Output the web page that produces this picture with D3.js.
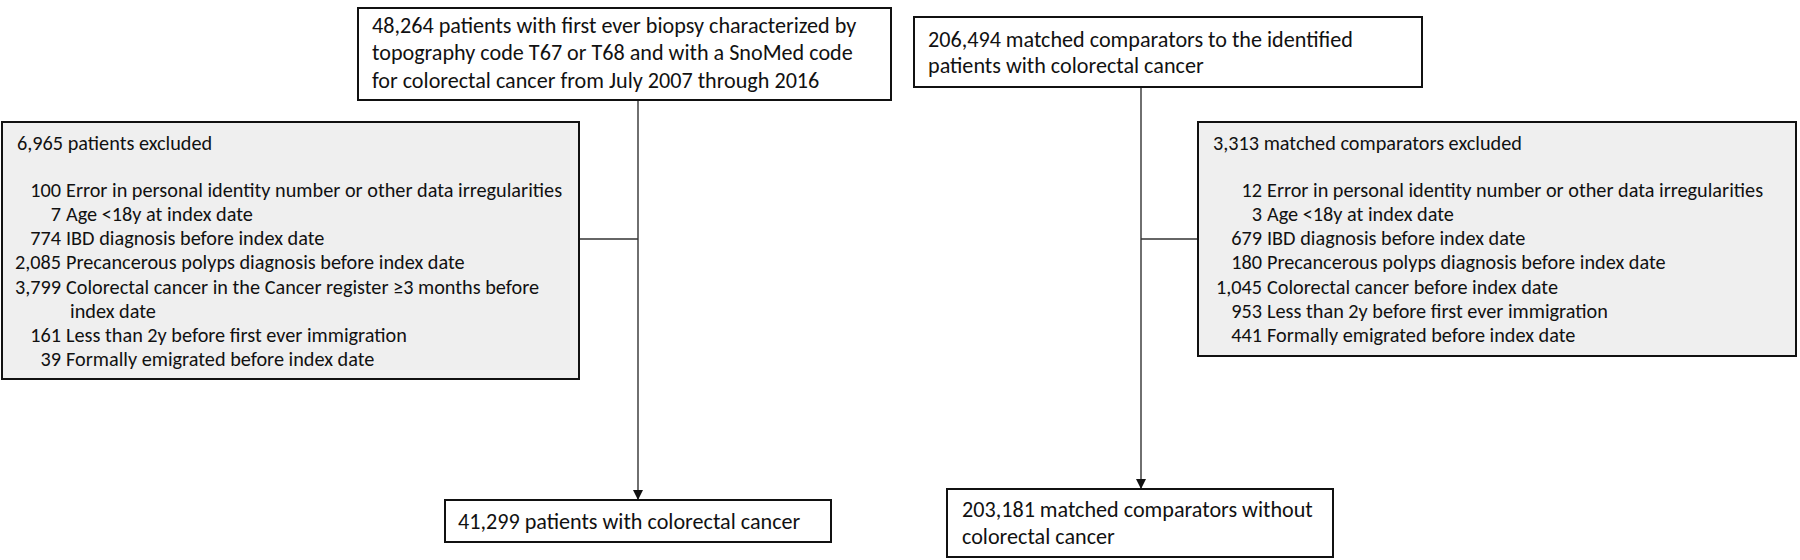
<!DOCTYPE html>
<html><head><meta charset="utf-8">
<script src="https://cdn.jsdelivr.net/npm/d3@7"></script>
<style>
html,body{margin:0;padding:0;background:#fff;}
svg{display:block;}
text{font-family:Carlito,Lato,"Liberation Sans",sans-serif;fill:#111;}
</style></head>
<body>
<svg id="chart" width="1800" height="560"></svg>
<script>
// ---------- data ----------
const cohortTop = ["48,264 patients with first ever biopsy characterized by",
  "topography code T67 or T68 and with a SnoMed code",
  "for colorectal cancer from July 2007 through 2016"];
const comparatorTop = ["206,494 matched comparators to the identified",
  "patients with colorectal cancer"];
const cohortExclHeader = "6,965 patients excluded";
const cohortExclCounts = ["100", "7", "774", "2,085", "3,799", "161", "39"];
const cohortExclReasons = [
  ["Error in personal identity number or other data irregularities"],
  ["Age <18y at index date"],
  ["IBD diagnosis before index date"],
  ["Precancerous polyps diagnosis before index date"],
  ["Colorectal cancer in the Cancer register \u22653 months before", "index date"],
  ["Less than 2y before first ever immigration"],
  ["Formally emigrated before index date"]];
const compExclHeader = "3,313 matched comparators excluded";
const compExclCounts = ["12", "3", "679", "180", "1,045", "953", "441"];
const compExclReasons = [
  ["Error in personal identity number or other data irregularities"],
  ["Age <18y at index date"],
  ["IBD diagnosis before index date"],
  ["Precancerous polyps diagnosis before index date"],
  ["Colorectal cancer before index date"],
  ["Less than 2y before first ever immigration"],
  ["Formally emigrated before index date"]];
const cohortFinal = ["41,299 patients with colorectal cancer"];
const comparatorFinal = ["203,181 matched comparators without", "colorectal cancer"];

// ---------- layout ----------
const svg = d3.select("#chart");
const defs = svg.append("defs");
defs.append("marker").attr("id", "arrow").attr("viewBox", "0 0 10 10")
  .attr("refX", 10).attr("refY", 5).attr("markerWidth", 11).attr("markerHeight", 10)
  .attr("markerUnits", "userSpaceOnUse").attr("orient", "auto")
  .append("path").attr("d", "M0,0L10,5L0,10Z").attr("fill", "#111");

// calibrate font sizes so widths match the reference
function calib(str, target, base) {
  const t = svg.append("text").style("font-size", base + "px").text(str);
  const w = t.node().getComputedTextLength();
  t.remove();
  return base * target / w;
}
const fsMain = calib("203,181 matched comparators without", 351, 20);
const fsExcl = calib("3,313 matched comparators excluded", 309, 20);

const lineCol = "#333";
const boxStroke = "#111";

function box(x, y, w, h, fill) {
  svg.append("rect").attr("x", x).attr("y", y).attr("width", w).attr("height", h)
    .attr("fill", fill).attr("stroke", boxStroke).attr("stroke-width", 2);
}

function lines(arr, x, y0, step, fs) {
  const ys = d3.scaleLinear().domain([0, 1]).range([y0, y0 + step]);
  svg.append("g").selectAll("text").data(arr).join("text")
    .attr("x", x).attr("y", (d, i) => ys(i))
    .attr("dominant-baseline", "central")
    .style("font-size", fs + "px").text(d => d);
}

function exclList(header, counts, reasons, hx, hy, numRight, y0, step) {
  svg.append("text").attr("x", hx).attr("y", hy).attr("dominant-baseline", "central")
    .style("font-size", fsExcl + "px").text(header);
  const rows = [];
  counts.forEach((c, i) => reasons[i].forEach((r, j) => rows.push({c: j === 0 ? c : "", r, cont: j > 0})));
  const ys = d3.scaleLinear().domain([0, 1]).range([y0, y0 + step]);
  const g = svg.append("g");
  g.selectAll("text.num").data(rows).join("text").attr("class", "num")
    .attr("x", numRight).attr("y", (d, i) => ys(i)).attr("text-anchor", "end")
    .attr("dominant-baseline", "central").style("font-size", fsExcl + "px").text(d => d.c);
  g.selectAll("text.reason").data(rows).join("text").attr("class", "reason")
    .attr("x", d => numRight + (d.cont ? 9 : 5)).attr("y", (d, i) => ys(i))
    .attr("dominant-baseline", "central").style("font-size", fsExcl + "px").text(d => d.r);
}

function seg(x1, y1, x2, y2, arrow) {
  const p = svg.append("line").attr("x1", x1).attr("y1", y1).attr("x2", x2).attr("y2", y2)
    .attr("stroke", lineCol).attr("stroke-width", 1.4);
  if (arrow) p.attr("marker-end", "url(#arrow)");
}
seg(638, 100, 638, 500, true);
seg(579, 239, 638, 239);
seg(1141, 87, 1141, 489, true);
seg(1141, 239, 1198, 239);

box(358, 8, 533, 92, "#fff");
lines(cohortTop, 372, 25, 27.5, fsMain);

box(914, 17, 508, 70, "#fff");
lines(comparatorTop, 928, 39, 26.5, fsMain);

box(2, 122, 577, 257, "#efefef");
exclList(cohortExclHeader, cohortExclCounts, cohortExclReasons, 17, 143, 61, 190, 24.15);

box(1198, 122, 598, 234, "#efefef");
exclList(compExclHeader, compExclCounts, compExclReasons, 1213, 143, 1262, 190, 24.15);

box(445, 500, 386, 42, "#fff");
lines(cohortFinal, 458, 521, 27, fsMain);

box(947, 489, 386, 68, "#fff");
lines(comparatorFinal, 962, 509, 27.5, fsMain);
</script>
</body></html>
